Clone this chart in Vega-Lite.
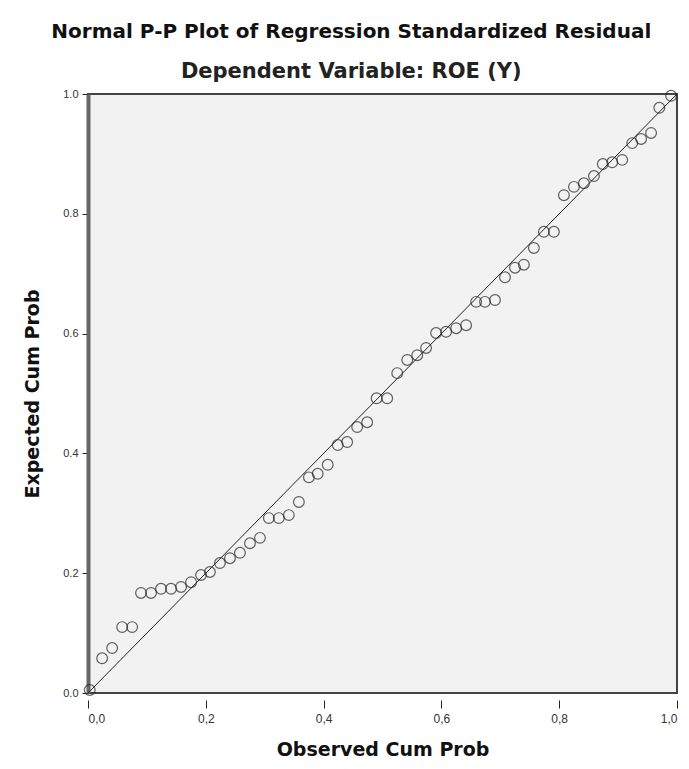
{
  "$schema": "https://vega.github.io/schema/vega-lite/v6.json",
  "width": 589,
  "height": 599,
  "autosize": "none",
  "padding": {"left": 88, "top": 94, "right": 12, "bottom": 76},
  "background": "white",
  "title": {
    "text": "Normal P-P Plot of Regression Standardized Residual",
    "subtitle": "Dependent Variable: ROE (Y)",
    "anchor": "middle",
    "frame": "bounds",
    "font": "DejaVu Sans",
    "fontSize": 20,
    "fontWeight": "bold",
    "color": "#111",
    "subtitleFont": "DejaVu Sans",
    "subtitleFontSize": 21,
    "subtitleFontWeight": "bold",
    "subtitleColor": "#222",
    "subtitlePadding": 19,
    "offset": 6
  },
  "config": {
    "view": {"fill": "#f2f2f2", "stroke": "#444", "strokeWidth": 2},
    "axis": {
      "labelFont": "Liberation Sans",
      "titleFont": "DejaVu Sans",
      "labelColor": "#333",
      "titleColor": "#111",
      "grid": false,
      "tickColor": "#222",
      "domainColor": "#555"
    }
  },
  "datasets": {
    "pts": [
      {"obs": 0.003, "exp": 0.005},
      {"obs": 0.024, "exp": 0.058},
      {"obs": 0.041, "exp": 0.075},
      {"obs": 0.058, "exp": 0.11},
      {"obs": 0.075, "exp": 0.11},
      {"obs": 0.09, "exp": 0.167},
      {"obs": 0.107, "exp": 0.167},
      {"obs": 0.124, "exp": 0.174},
      {"obs": 0.141, "exp": 0.174},
      {"obs": 0.158, "exp": 0.177},
      {"obs": 0.175, "exp": 0.185},
      {"obs": 0.192, "exp": 0.197},
      {"obs": 0.207, "exp": 0.202},
      {"obs": 0.224, "exp": 0.217},
      {"obs": 0.241, "exp": 0.225},
      {"obs": 0.258, "exp": 0.234},
      {"obs": 0.275, "exp": 0.25},
      {"obs": 0.292, "exp": 0.259},
      {"obs": 0.307, "exp": 0.292},
      {"obs": 0.324, "exp": 0.292},
      {"obs": 0.341, "exp": 0.297},
      {"obs": 0.358, "exp": 0.319},
      {"obs": 0.375, "exp": 0.36},
      {"obs": 0.39, "exp": 0.366},
      {"obs": 0.407, "exp": 0.381},
      {"obs": 0.424, "exp": 0.414},
      {"obs": 0.44, "exp": 0.419},
      {"obs": 0.457, "exp": 0.444},
      {"obs": 0.474, "exp": 0.452},
      {"obs": 0.49, "exp": 0.492},
      {"obs": 0.508, "exp": 0.492},
      {"obs": 0.525, "exp": 0.534},
      {"obs": 0.542, "exp": 0.556},
      {"obs": 0.559, "exp": 0.564},
      {"obs": 0.574, "exp": 0.576},
      {"obs": 0.591, "exp": 0.601},
      {"obs": 0.608, "exp": 0.603},
      {"obs": 0.625, "exp": 0.609},
      {"obs": 0.642, "exp": 0.614},
      {"obs": 0.659, "exp": 0.653},
      {"obs": 0.674, "exp": 0.653},
      {"obs": 0.691, "exp": 0.656},
      {"obs": 0.708, "exp": 0.694},
      {"obs": 0.725, "exp": 0.71},
      {"obs": 0.74, "exp": 0.715},
      {"obs": 0.757, "exp": 0.743},
      {"obs": 0.774, "exp": 0.77},
      {"obs": 0.791, "exp": 0.77},
      {"obs": 0.808, "exp": 0.831},
      {"obs": 0.825, "exp": 0.845},
      {"obs": 0.842, "exp": 0.851},
      {"obs": 0.859, "exp": 0.863},
      {"obs": 0.874, "exp": 0.883},
      {"obs": 0.89, "exp": 0.886},
      {"obs": 0.907, "exp": 0.89},
      {"obs": 0.924, "exp": 0.918},
      {"obs": 0.939, "exp": 0.925},
      {"obs": 0.956, "exp": 0.935},
      {"obs": 0.97, "exp": 0.977},
      {"obs": 0.99, "exp": 0.997}
    ],
    "diag": [
      {"obs": 0, "exp": 0},
      {"obs": 1, "exp": 1}
    ]
  },
  "layer": [
    {
      "data": {"name": "diag"},
      "mark": {"type": "line", "color": "#222", "strokeWidth": 1, "clip": true},
      "encoding": {
        "x": {
          "field": "obs", "type": "quantitative",
          "scale": {"domain": [0, 1], "nice": false, "zero": false},
          "axis": {
            "title": "Observed Cum Prob",
            "titleFontSize": 19,
            "titleFontWeight": "bold",
            "titlePadding": 16,
            "values": [0, 0.2, 0.4, 0.6, 0.8, 1],
            "labelExpr": "replace(format(datum.value, '.1f'), '.', ',')",
            "labelFontSize": 12,
            "labelPadding": 5,
            "tickSize": 8,
            "offset": 7,
            "domain": false
          }
        },
        "y": {
          "field": "exp", "type": "quantitative",
          "scale": {"domain": [0, 1], "nice": false, "zero": false},
          "axis": {
            "title": "Expected Cum Prob",
            "titleFontSize": 19,
            "titleFontWeight": "bold",
            "titlePadding": 20,
            "values": [0, 0.2, 0.4, 0.6, 0.8, 1],
            "format": ".1f",
            "labelFontSize": 11,
            "labelPadding": 4,
            "tickSize": 6,
            "domainWidth": 4,
            "domainColor": "#666"
          }
        }
      }
    },
    {
      "data": {"name": "pts"},
      "mark": {"type": "point", "shape": "circle", "filled": false, "stroke": "#222", "strokeWidth": 1.2, "size": 115},
      "encoding": {
        "x": {"field": "obs", "type": "quantitative"},
        "y": {"field": "exp", "type": "quantitative"}
      }
    }
  ]
}
